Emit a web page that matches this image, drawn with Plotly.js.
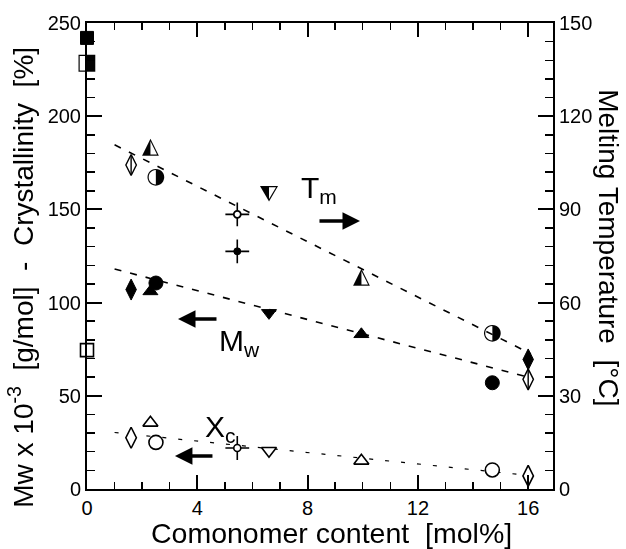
<!DOCTYPE html>
<html>
<head>
<meta charset="utf-8">
<script src="https://cdn.plot.ly/plotly-3.0.1.min.js"></script>
<style>html,body{margin:0;padding:0;background:#fff;}#chart{width:626px;height:549px;}
.textpoint text{text-rendering:geometricPrecision;}</style>
</head>
<body>
<div id="chart"></div>
<script>
// ---- data ----
const comonomer = [0, 1.6, 2.3, 2.5, 5.45, 6.6, 9.95, 14.7, 16.0];     // mol%
const mwValues  = [242, 107, 106, 110.5, 127.5, 94.5, 83, 57, 69.5];   // Mw x 10^-3 g/mol
const tmValues  = [137, 104.3, 110, 100.4, 88.4, 94.6, 68, 50.2, 35.3]; // deg C
const xcValues  = [74.5, 27.5, 35.5, 25, 22, 20.5, 15.1, 10.2, 7];     // %
const catalystShape = ['square','diamond','triangle-up','circle','crosshair','triangle-down','triangle-up','circle','diamond'];

const tmFitX = [1.0, 16.1], tmFitY = [110.8, 43.5];
const mwFitX = [1.0, 16.0], mwFitY = [118, 60];
const xcFitX = [1.0, 16.0], xcFitY = [30.3, 7.3];

const xTicks = [0, 4, 8, 12, 16];
const yLeftTicks = [0, 50, 100, 150, 200, 250];
const yRightTicks = [0, 30, 60, 90, 120, 150];

// ---- styles ----
const symMap = {square:'square', diamond:'diamond-tall', 'triangle-up':'triangle-up', circle:'circle', crosshair:'circle', 'triangle-down':'triangle-down'};
const sizeMap = {square:13, diamond:15, 'triangle-up':13, circle:14, crosshair:7, 'triangle-down':13};
const halfGlyph = {square:'\u25E8', circle:'\u25D1', 'triangle-up':'\u25ED', 'triangle-down':'\u29E8'};

const syms = catalystShape.map(s => symMap[s]);
const sizes = catalystShape.map(s => sizeMap[s]);

function pick(arr, cond){ return arr.filter((v,i)=>cond(catalystShape[i])); }
const isCross = s => s === 'crosshair';
const isDiam = s => s === 'diamond';
const isGlyph = s => s in halfGlyph;

const traces = [];
// fit lines
traces.push({x:tmFitX, y:tmFitY, yaxis:'y2', mode:'lines', line:{color:'#000', width:1.6, dash:'7px,9px'}});
traces.push({x:mwFitX, y:mwFitY, mode:'lines', line:{color:'#000', width:1.6, dash:'7px,9px'}});
traces.push({x:xcFitX, y:xcFitY, mode:'lines', line:{color:'#000', width:1.2, dash:'4px,12px'}});

const crossMarker = {symbol:'cross-thin-open', size:17, color:'#000', opacity:1, line:{color:'#000', width:1.6}};
const crossX = pick(comonomer, isCross);
traces.push({x:crossX, y:pick(mwValues,isCross), mode:'markers', marker:crossMarker, cliponaxis:false});
traces.push({x:crossX, y:pick(xcValues,isCross), mode:'markers', marker:crossMarker, cliponaxis:false});
traces.push({x:crossX, y:pick(tmValues,isCross), yaxis:'y2', mode:'markers', marker:crossMarker, cliponaxis:false});

// Mw: filled
traces.push({x:comonomer, y:mwValues, mode:'markers', cliponaxis:false,
  marker:{symbol:syms, size:sizes, color:'#000', opacity:1, line:{color:'#000', width:1}}});
// Xc: open
traces.push({x:comonomer, y:xcValues, mode:'markers', cliponaxis:false,
  marker:{symbol:syms, size:sizes, color:'#fff', opacity:1, line:{color:'#000', width:1.6}}});
// Tm: half filled (white backing first, then half-black glyph)
traces.push({x:pick(comonomer,isGlyph), y:pick(tmValues,isGlyph), yaxis:'y2', mode:'text', cliponaxis:false, opacity:0.99,
  text:catalystShape.filter(isGlyph).map(s=>halfGlyph[s]), textposition:'middle center',
  textfont:{family:'DejaVu Sans', size:22, color:'#000000'}});
traces.push({x:pick(comonomer,isDiam), y:pick(tmValues,isDiam), yaxis:'y2', mode:'markers', cliponaxis:false,
  marker:{symbol:'diamond-tall', size:15, color:'#fff', opacity:1, line:{color:'#000', width:1.4}}});
traces.push({x:pick(comonomer,isDiam), y:pick(tmValues,isDiam), yaxis:'y2', mode:'markers', cliponaxis:false,
  marker:{symbol:'line-ns-open', size:14, color:'#000', opacity:1, line:{color:'#000', width:1.4}}});
traces.push({x:crossX, y:pick(tmValues,isCross), yaxis:'y2', mode:'markers', cliponaxis:false,
  marker:{symbol:'circle', size:7, color:'#fff', opacity:1, line:{color:'#000', width:1.8}}});

const fontFam = 'Liberation Sans, Arial, sans-serif';
const arrowCommon = {showarrow:true, arrowhead:2, arrowsize:1, arrowwidth:3.5, arrowcolor:'#000', text:'', axref:'pixel', ayref:'pixel'};

const layout = {
  width:626, height:549,
  margin:{l:87, r:73, t:23, b:60, pad:0},
  paper_bgcolor:'#fff', plot_bgcolor:'#fff',
  showlegend:false,
  colorway:['#000'],
  font:{family:fontFam, color:'#000'},
  xaxis:{range:[0,16.9], tickmode:'array', tickvals:xTicks, ticktext:xTicks.map(String),
    ticks:'inside', ticklen:14, tickwidth:2, tickcolor:'#000',
    showline:true, linewidth:2, linecolor:'#000', mirror:'ticks',
    minor:{dtick:1, tick0:0, ticks:'inside', ticklen:7, tickwidth:1.5, tickcolor:'#000'},
    showgrid:false, zeroline:false, tickfont:{size:20, family:fontFam}},
  yaxis:{range:[0,250], tickmode:'array', tickvals:yLeftTicks, ticktext:yLeftTicks.map(String),
    ticks:'inside', ticklen:15, tickwidth:2, tickcolor:'#000',
    showline:true, linewidth:2, linecolor:'#000',
    minor:{dtick:10, tick0:0, ticks:'inside', ticklen:8, tickwidth:1.5, tickcolor:'#000'},
    showgrid:false, zeroline:false, tickfont:{size:20, family:fontFam}},
  yaxis2:{range:[0,150], overlaying:'y', side:'right', tickmode:'array', tickvals:yRightTicks, ticktext:yRightTicks.map(String),
    ticks:'inside', ticklen:15, tickwidth:2, tickcolor:'#000',
    showline:true, linewidth:2, linecolor:'#000',
    minor:{dtick:6, tick0:0, ticks:'inside', ticklen:8, tickwidth:1.5, tickcolor:'#000'},
    showgrid:false, zeroline:false, tickfont:{size:20, family:fontFam}},
  annotations:[
    {xref:'paper', yref:'paper', x:0.524, y:-0.094, xanchor:'center', yanchor:'middle', showarrow:false,
     text:'Comonomer content  [mol%]', font:{size:28.5, family:fontFam}},
    {xref:'paper', yref:'paper', x:-0.142, y:0.455, xanchor:'center', yanchor:'middle', showarrow:false, textangle:-90,
     text:'Mw x 10<sup>-3</sup>  [g/mol]  -  Crystallinity  [%]', font:{size:28, family:fontFam}},
    {xref:'paper', yref:'paper', x:1.12, y:0.517, xanchor:'center', yanchor:'middle', showarrow:false, textangle:90,
     text:'Melting Temperature  [°C]', font:{size:28, family:fontFam}},
    {xref:'x', yref:'y', x:7.7, y:160.5, xanchor:'left', yanchor:'middle', showarrow:false, text:'T<sub>m</sub>', font:{size:30, family:fontFam}},
    {xref:'x', yref:'y', x:4.72, y:78.4, xanchor:'left', yanchor:'middle', showarrow:false, text:'M<sub>w</sub>', font:{size:30, family:fontFam}},
    {xref:'x', yref:'y', x:4.21, y:32.3, xanchor:'left', yanchor:'middle', showarrow:false, text:'X<sub>c</sub>', font:{size:30, family:fontFam}},
    Object.assign({xref:'x', yref:'y', x:9.9, y:143.8, ax:-42, ay:0}, arrowCommon),
    Object.assign({xref:'x', yref:'y', x:3.3, y:91.2, ax:40, ay:0}, arrowCommon),
    Object.assign({xref:'x', yref:'y', x:3.19, y:17.7, ax:39, ay:0}, arrowCommon)
  ]
};

Plotly.newPlot('chart', traces, layout, {displayModeBar:false, staticPlot:true});
</script>
</body>
</html>
